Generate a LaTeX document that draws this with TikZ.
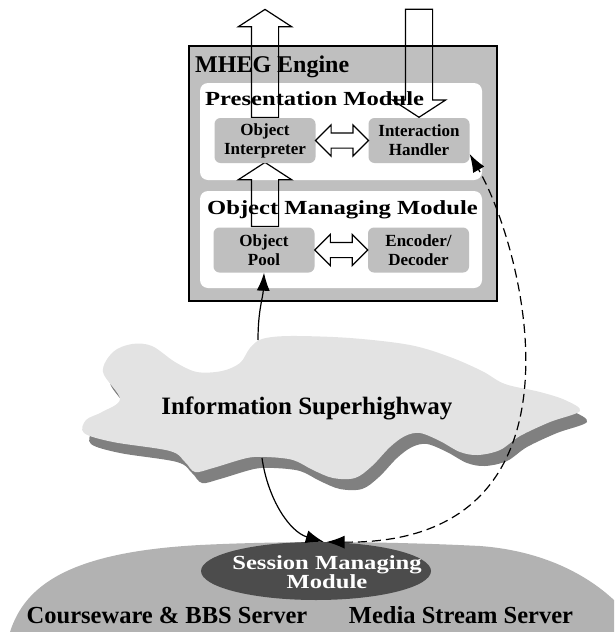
\documentclass[tikz,border=0pt]{standalone}
\usepackage{fontspec}
\setmainfont{Liberation Serif}
\newfontfamily\widefont[FakeStretch=1.23]{Liberation Serif}
\usetikzlibrary{arrows.meta,calc,shapes.arrows,shapes.geometric}

\tikzset{
  engine/.style={draw=black,line width=1.4pt,fill=black!25},
  module/.style={fill=white,rounded corners=8pt},
  unit/.style={fill=black!25,rounded corners=6pt,minimum width=101pt,minimum height=45pt,
    inner sep=0pt,align=center,font=\bfseries\fontsize{17}{19}\selectfont},
  title/.style={anchor=base west,inner sep=0pt,font=\widefont\bfseries\fontsize{20}{22}\selectfont},
  bigtext/.style={anchor=base,inner sep=0pt,font=\bfseries\fontsize{24.5}{28}\selectfont},
  fatarrow/.style={single arrow,draw,line width=1.2pt,inner xsep=0pt,inner ysep=13pt,
    single arrow head extend=13pt,single arrow tip angle=114},
  swaparrow/.style={double arrow,draw,line width=1.2pt,inner xsep=0pt,inner ysep=7pt,
    double arrow head extend=8pt,double arrow tip angle=90,minimum height=53pt},
  tip/.style={Latex[length=18pt,width=13pt]},
  link/.style={line width=1.2pt,-{Latex[length=18pt,width=13pt]}},
}
\newcommand{\cloudshape}{plot[smooth cycle,tension=0.55] coordinates {
  (103,372) (113,352) (132,344) (152,346) (175,362) (197,372) (222,371) (240,363)
  (250,348) (262,339) (290,336) (350,338) (410,345) (450,357) (482,371) (505,384)
  (540,392) (565,400) (580,411) (550,422) (520,436) (500,450) (478,455) (460,452)
  (440,441) (420,433) (405,436) (390,447) (372,466) (355,478) (333,478) (313,470)
  (293,460) (267,457) (247,458) (213,468) (195,472) (185,462) (170,451) (113,442)
  (84,433) (86,420) (102,412) (120,399)}}

\begin{document}
\begin{tikzpicture}[x=1pt,y=-1pt]
  \useasboundingbox (0,0) rectangle (614,632);

  % Server ground
  \begin{scope}
    \clip (0,0) rectangle (614,632);
    \fill[black!30] (10,632) .. controls (25,585) and (70,552) .. (200,545)
      .. controls (280,541) and (380,541) .. (480,546)
      .. controls (560,552) and (615,590) .. (640,632) -- cycle;
  \end{scope}
  \node[ellipse,fill=black!70,minimum width=230pt,minimum height=58pt,inner sep=0pt] (sm) at (316,571) {};
  \node[align=center,text=white,inner sep=0pt,font=\widefont\bfseries\fontsize{20}{19}\selectfont] (smtext) at (327,572) {Session Managing\\Module};
  \node[bigtext] (cw) at (167,623) {Courseware \& BBS Server};
  \node[bigtext] (ms) at (461,623) {Media Stream Server};

  % Network cloud
  \fill[black!50,shift={(7,11)}] \cloudshape;
  \fill[black!11] \cloudshape;
  \node[bigtext,font=\bfseries\fontsize{25}{28}\selectfont] (net) at (307,414) {Information Superhighway};
  \coordinate (cloudtop) at (258,340);
  \coordinate (cloudbot) at (262,458);

  % MHEG engine and its modules
  \draw[engine] (189,46) rectangle (497,301);
  \fill[module] (200,83) rectangle (482,180);
  \fill[module] (200,191) rectangle (482,288);

  % Define units
  \coordinate (oi) at (265,140.5);
  \coordinate (ih) at (419,140.5);
  \coordinate (op) at (264,250);
  \coordinate (ed) at (418.5,250);

  \node[fatarrow,rotate=90,anchor=tail,minimum height=108pt] (out) at ($(oi)+(0,-22.5)$) {};
  \node[fatarrow,rotate=-90,anchor=tip,minimum height=108pt] (in) at ($(ih)+(0,-22.5)$) {};
  \node[fatarrow,rotate=90,anchor=tail,minimum height=64pt] (up) at ($(op -| oi)+(0,-23)$) {};

  \node[unit] (interp) at (oi) {Object\\Interpreter};
  \node[unit] (handler) at (ih) {Interaction\\Handler};
  \node[unit] (pool) at (op) {Object\\Pool};
  \node[unit] (codec) at (ed) {Encoder/\\Decoder};

  \node[swaparrow] (sw1) at ($(interp.east)!0.5!(handler.west)$) {};
  \node[swaparrow] (sw2) at ($(pool.east)!0.5!(codec.west)$) {};

  \node[title,font=\bfseries\fontsize{24}{26}\selectfont] (mheg) at (195,72) {MHEG Engine};
  \node[title] (pm) at (205,105) {Presentation Module};
  \node[title] (omm) at (207,214) {Object Managing Module};

  % Connections
  \draw[link] (cloudtop) .. controls +(0,-30) and +(-1,25) .. (pool.south);
  \draw[link] (cloudbot) .. controls (268,500) and (290,532) .. (sm.75);
  \draw[line width=1.2pt,dash pattern=on 9pt off 5pt,{Latex[length=18pt,width=13pt]}-{Latex[length=18pt,width=13pt]}]
    (sm.70) .. controls (600,545) and (525,250) .. (handler.-15);
\end{tikzpicture}
\end{document}
